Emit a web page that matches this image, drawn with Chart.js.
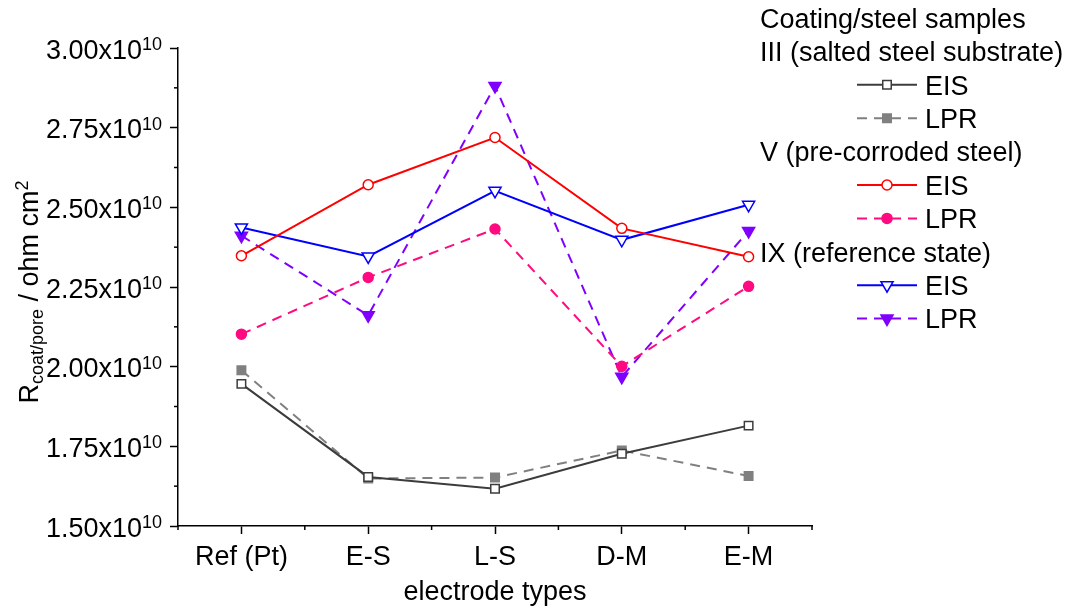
<!DOCTYPE html>
<html>
<head>
<meta charset="utf-8">
<script src="https://cdn.jsdelivr.net/npm/chart.js@4/dist/chart.umd.min.js"></script>
<style>
  body { margin: 0; background: #fff; }
  #wrap { position: relative; width: 1072px; height: 610px; }
</style>
</head>
<body>
<div id="wrap"><canvas id="grafico"></canvas></div>
<script>
const categorias = ["Ref (Pt)", "E-S", "L-S", "D-M", "E-M"];

// amostra III (salted steel substrate)
const eisIII = [1.946e10, 1.654e10, 1.617e10, 1.727e10, 1.815e10];
const lprIII = [1.989e10, 1.649e10, 1.652e10, 1.737e10, 1.657e10];
// amostra V (pre-corroded steel)
const eisV = [2.348e10, 2.571e10, 2.719e10, 2.434e10, 2.345e10];
const lprV = [2.102e10, 2.280e10, 2.432e10, 2.001e10, 2.252e10];
// amostra IX (reference state)
const eisIX = [2.437e10, 2.346e10, 2.552e10, 2.398e10, 2.508e10];
const lprIX = [2.411e10, 2.161e10, 2.881e10, 1.968e10, 2.426e10];

const yMantissas = ["1.50", "1.75", "2.00", "2.25", "2.50", "2.75", "3.00"];
const yExpoente = "10";

const FONTE = "'Liberation Sans', Arial, sans-serif";
const TRACO = [10, 7];

function serie(label, dados, cor, estilo, cheio, tracejado, raio) {
  return {
    label: label,
    data: dados,
    borderColor: cor,
    borderWidth: 2,
    borderDash: tracejado ? TRACO : [],
    pointStyle: estilo,
    pointRotation: estilo === "triangle" ? 180 : 0,
    pointRadius: raio,
    pointHoverRadius: raio,
    pointBorderWidth: 1.5,
    pointBorderColor: cor,
    pointBackgroundColor: cheio ? cor : "#fff",
    tension: 0,
    fill: false
  };
}

const datasets = [
  serie("III EIS", eisIII, "#3c3c3c", "rect", false, false, 6),
  serie("III LPR", lprIII, "#808080", "rect", true, true, 6),
  serie("V EIS", eisV, "#ff0000", "circle", false, false, 5),
  serie("V LPR", lprV, "#ff0a80", "circle", true, true, 5),
  serie("IX EIS", eisIX, "#0000ff", "triangle", false, false, 7),
  serie("IX LPR", lprIX, "#8000ff", "triangle", true, true, 7)
];

const legenda = [
  { titulo: "Coating/steel samples" },
  { titulo: "III (salted steel substrate)" },
  { serie: 0, texto: "EIS" },
  { serie: 1, texto: "LPR" },
  { titulo: "V (pre-corroded steel)" },
  { serie: 2, texto: "EIS" },
  { serie: 3, texto: "LPR" },
  { titulo: "IX (reference state)" },
  { serie: 4, texto: "EIS" },
  { serie: 5, texto: "LPR" }
];

const extras = {
  id: "extras",
  afterDraw(chart) {
    const ctx = chart.ctx;
    const x = chart.scales.x;
    const y = chart.scales.y;
    const area = chart.chartArea;
    ctx.save();

    // ticks menores
    ctx.strokeStyle = "#000";
    ctx.lineWidth = 1.5;
    const passo = x.getPixelForValue(1) - x.getPixelForValue(0);
    for (let i = 0; i <= categorias.length; i++) {
      const px = x.getPixelForValue(0) + (i - 0.5) * passo;
      ctx.beginPath();
      ctx.moveTo(px, area.bottom);
      ctx.lineTo(px, area.bottom + 4);
      ctx.stroke();
    }
    for (let i = 0; i < yMantissas.length - 1; i++) {
      const v = (parseFloat(yMantissas[i]) + 0.125) * 1e10;
      const py = y.getPixelForValue(v);
      ctx.beginPath();
      ctx.moveTo(area.left, py);
      ctx.lineTo(area.left - 4, py);
      ctx.stroke();
    }

    // rotulos do eixo y com expoente
    ctx.fillStyle = "#000";
    ctx.textAlign = "left";
    ctx.textBaseline = "alphabetic";
    yMantissas.forEach(m => {
      const py = y.getPixelForValue(parseFloat(m) * 1e10);
      ctx.font = "18px " + FONTE;
      const wSup = ctx.measureText(yExpoente).width;
      ctx.font = "27px " + FONTE;
      const txt = m + "x10";
      const wMain = ctx.measureText(txt).width;
      const x0 = area.left - 16 - wSup - wMain;
      ctx.fillText(txt, x0, py + 10.5);
      ctx.font = "18px " + FONTE;
      ctx.fillText(yExpoente, x0 + wMain, py + 2);
    });

    // titulo do eixo y
    const partes = [
      { t: "R", f: 27, d: 0 },
      { t: "coat/pore", f: 18, d: 5 },
      { t: " / ohm cm", f: 27, d: 0 },
      { t: "2", f: 18, d: -10 }
    ];
    let total = 0;
    partes.forEach(p => { ctx.font = p.f + "px " + FONTE; p.w = ctx.measureText(p.t).width; total += p.w; });
    ctx.save();
    ctx.translate(38, (area.top + area.bottom) / 2 + 5);
    ctx.rotate(-Math.PI / 2);
    let cx = -total / 2;
    partes.forEach(p => {
      ctx.font = p.f + "px " + FONTE;
      ctx.fillText(p.t, cx, p.d);
      cx += p.w;
    });
    ctx.restore();

    // titulo do eixo x
    ctx.font = "27px " + FONTE;
    ctx.textAlign = "center";
    ctx.fillText("electrode types", (area.left + area.right) / 2, 600);

    // legenda
    const linhaY0 = 18, passoL = 33.4;
    legenda.forEach((item, i) => {
      const ly = linhaY0 + i * passoL;
      ctx.textAlign = "left";
      ctx.font = "27px " + FONTE;
      ctx.fillStyle = "#000";
      if (item.titulo) {
        ctx.fillText(item.titulo, 760, ly + 9.7);
        return;
      }
      const ds = datasets[item.serie];
      ctx.strokeStyle = ds.borderColor;
      ctx.lineWidth = ds.borderWidth;
      ctx.setLineDash(ds.borderDash);
      ctx.beginPath();
      ctx.moveTo(857, ly);
      ctx.lineTo(917, ly);
      ctx.stroke();
      ctx.setLineDash([]);
      ctx.fillStyle = ds.pointBackgroundColor;
      ctx.strokeStyle = ds.pointBorderColor;
      ctx.lineWidth = ds.pointBorderWidth;
      Chart.helpers.drawPoint(ctx, {
        pointStyle: ds.pointStyle,
        rotation: ds.pointRotation,
        radius: ds.pointRadius,
        borderWidth: ds.pointBorderWidth
      }, 887, ly);
      ctx.fillStyle = "#000";
      ctx.fillText(item.texto, 925, ly + 9.7);
    });

    ctx.restore();
  }
};

new Chart(document.getElementById("grafico"), {
  type: "line",
  data: { labels: categorias, datasets: datasets },
  options: {
    responsive: true,
    maintainAspectRatio: false,
    animation: false,
    layout: { padding: { left: 0, top: 48, right: 260, bottom: 0 } },
    plugins: { legend: { display: false }, tooltip: { enabled: false } },
    scales: {
      x: {
        type: "category",
        offset: true,
        afterFit: s => { s.height = 84; },
        grid: { display: true, drawOnChartArea: false, drawTicks: true, tickLength: 8, offset: false, tickColor: "#000", tickWidth: 1.5 },
        border: { display: true, color: "#000", width: 1.5 },
        ticks: { color: "#000", font: { family: FONTE, size: 27 }, padding: 7, maxRotation: 0, autoSkip: false }
      },
      y: {
        min: 1.5e10,
        max: 3.0e10,
        afterFit: s => { s.width = 178; },
        ticks: { display: false, stepSize: 0.25e10 },
        grid: { display: true, drawOnChartArea: false, drawTicks: true, tickLength: 8, tickColor: "#000", tickWidth: 1.5 },
        border: { display: true, color: "#000", width: 1.5 }
      }
    }
  },
  plugins: [extras]
});
</script>
</body>
</html>
